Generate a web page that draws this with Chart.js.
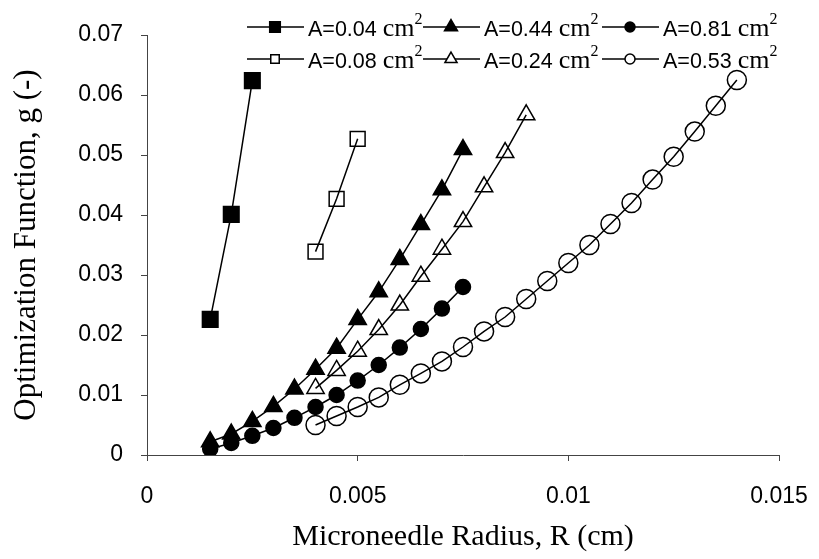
<!DOCTYPE html>
<html>
<head>
<meta charset="utf-8">
<script src="https://cdn.jsdelivr.net/npm/chart.js@4.4.1/dist/chart.umd.min.js"></script>
<style>
  html,body{margin:0;padding:0;background:#fff;}
  #wrap{width:819px;height:559px;position:relative;}
</style>
</head>
<body>
<div id="wrap"><canvas id="c" width="819" height="559"></canvas></div>
<script>
// radius values (cm) and g values
const r004 = [0.0015,0.002,0.0025];
const g004 = [0.0226,0.0401,0.0624];
const r008 = [0.004,0.0045,0.005];
const g008 = [0.0339,0.0427,0.0527];
const r044 = [0.0015,0.002,0.0025,0.003,0.0035,0.004,0.0045,0.005,0.0055,0.006,0.0065,0.007,0.0075];
const g044 = [0.0022,0.0035,0.0056,0.0081,0.011,0.0143,0.0178,0.0226,0.0272,0.0326,0.0384,0.0442,0.0509];
const r024 = [0.004,0.0045,0.005,0.0055,0.006,0.0065,0.007,0.0075,0.008,0.0085,0.009];
const g024 = [0.0111,0.0141,0.0173,0.0209,0.025,0.0298,0.0343,0.0389,0.0447,0.0504,0.0567];
const r081 = [0.0015,0.002,0.0025,0.003,0.0035,0.004,0.0045,0.005,0.0055,0.006,0.0065,0.007,0.0075];
const g081 = [0.001,0.002,0.0032,0.0045,0.0062,0.008,0.010,0.0124,0.015,0.0179,0.021,0.0244,0.028];
const r053 = [0.004,0.0045,0.005,0.0055,0.006,0.0065,0.007,0.0075,0.008,0.0085,0.009,0.0095,0.01,0.0105,0.011,0.0115,0.012,0.0125,0.013,0.0135,0.014];
const g053 = [0.005,0.0065,0.008,0.0096,0.0117,0.0136,0.0156,0.018,0.0206,0.023,0.026,0.029,0.032,0.035,0.0385,0.042,0.0459,0.0497,0.0539,0.0582,0.0625];

const seriesLabels = ["A=0.04","A=0.08","A=0.44","A=0.24","A=0.81","A=0.53"];
const xTicks = [0,0.005,0.01,0.015];
const yTicks = [0,0.01,0.02,0.03,0.04,0.05,0.06,0.07];

function pts(xs,ys){ return xs.map((x,i)=>({x:x,y:ys[i]})); }

function ds(label,xs,ys,style,filled,radius,legendRadius){
  return {
    label:label,
    data:pts(xs,ys),
    showLine:true,
    borderColor:"#000",
    borderWidth:1.5,
    pointStyle:style,
    pointRadius:radius,
    pointHoverRadius:radius,
    pointBorderColor:"#000",
    pointBorderWidth:1.5,
    pointBackgroundColor:filled?"#000":"rgba(0,0,0,0)",
    filledMarker:filled,
    legendRadius:legendRadius
  };
}

const datasets = [
  ds(seriesLabels[0],r004,g004,"rect",true,11,7.5),
  ds(seriesLabels[1],r008,g008,"rect",false,10.5,6),
  ds(seriesLabels[2],r044,g044,"triangle",true,10,7.5),
  ds(seriesLabels[3],r024,g024,"triangle",false,10,7),
  ds(seriesLabels[4],r081,g081,"circle",true,7.5,5),
  ds(seriesLabels[5],r053,g053,"circle",false,9.5,5)
];

// legend laid out in two rows like the original
const legendOrder = [[0,2,4],[1,3,5]];
const legendCols = [247,423,602];
const legendRows = [27,59];

const legendPlugin = {
  id:"twoRowLegend",
  afterDraw(chart){
    const ctx = chart.ctx;
    ctx.save();
    legendOrder.forEach((row,ri)=>{
      row.forEach((di,ci)=>{
        const d = chart.data.datasets[di];
        const x0 = legendCols[ci], y = legendRows[ri];
        ctx.strokeStyle = "#000";
        ctx.lineWidth = 1.5;
        ctx.beginPath();
        ctx.moveTo(x0,y); ctx.lineTo(x0+57,y);
        ctx.stroke();
        ctx.fillStyle = d.filledMarker ? "#000" : "#fff";
        Chart.helpers.drawPoint(ctx,{pointStyle:d.pointStyle,radius:d.legendRadius,borderWidth:1.5,rotation:0},x0+28,y);
        ctx.fillStyle = "#000";
        ctx.textBaseline = "alphabetic";
        ctx.font = "21.5px 'Liberation Sans', Arial, sans-serif";
        let tx = x0+61;
        ctx.fillText(d.label,tx,y+9);
        tx += ctx.measureText(d.label).width + 6;
        ctx.font = "26px 'Liberation Serif', 'Times New Roman', serif";
        ctx.fillText("cm",tx,y+9);
        tx += ctx.measureText("cm").width;
        ctx.font = "16px 'Liberation Serif', 'Times New Roman', serif";
        ctx.fillText("2",tx,y-3);
      });
    });
    ctx.restore();
  }
};

new Chart(document.getElementById("c"),{
  type:"scatter",
  data:{datasets:datasets},
  options:{
    responsive:false,
    animation:false,
    layout:{padding:{top:35,right:40,left:0,bottom:0}},
    plugins:{legend:{display:false},tooltip:{enabled:false}},
    scales:{
      x:{
        type:"linear",
        min:0,max:0.015,
        afterBuildTicks:s=>{ s.ticks = xTicks.map(v=>({value:v})); },
        afterFit:s=>{ s.height = 104; s.paddingLeft = 0; s.paddingRight = 0; },
        grid:{drawOnChartArea:false,drawTicks:true,tickLength:6,color:"#444"},
        border:{color:"#444",width:1},
        ticks:{color:"#000",padding:22,font:{family:"'Liberation Sans', Arial, sans-serif",size:23},callback:v=>String(v)},
        title:{display:true,text:"Microneedle Radius, R (cm)",color:"#000",padding:{top:0,bottom:4},font:{family:"'Liberation Serif', 'Times New Roman', serif",size:30}}
      },
      y:{
        type:"linear",
        min:0,max:0.07,
        afterBuildTicks:s=>{ s.ticks = yTicks.map(v=>({value:v})); },
        afterFit:s=>{ s.width = 147; },
        grid:{drawOnChartArea:false,drawTicks:true,tickLength:6,color:"#444"},
        border:{color:"#444",width:1},
        ticks:{color:"#000",padding:18,font:{family:"'Liberation Sans', Arial, sans-serif",size:23},callback:v=>String(v)},
        title:{display:true,text:"Optimization Function, g (-)",color:"#000",padding:{top:8,bottom:0},font:{family:"'Liberation Serif', 'Times New Roman', serif",size:31}}
      }
    }
  },
  plugins:[legendPlugin]
});
</script>
</body>
</html>
